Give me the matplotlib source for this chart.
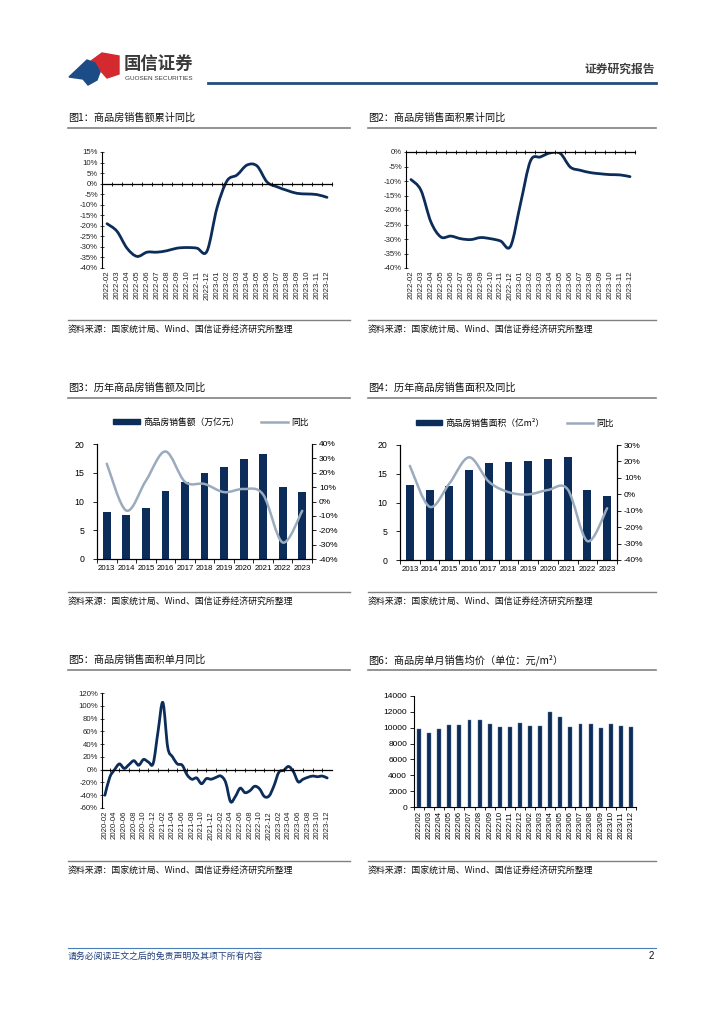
import numpy as np
import matplotlib
matplotlib.use('Agg')
import matplotlib.pyplot as plt
from matplotlib.path import Path
from matplotlib.patches import PathPatch, Polygon, Patch
from matplotlib.lines import Line2D

plt.rcParams['font.family'] = ['Liberation Sans', 'Noto Sans CJK SC']
plt.rcParams['axes.unicode_minus'] = False

W, H = 724, 1024
NAVY = '#0C2D5A'
LIGHT = '#9AABBE'
CJK = ['Noto Sans CJK SC', 'DejaVu Sans']

# ---- data ----
months_a = ['2022-02', '2022-03', '2022-04', '2022-05', '2022-06', '2022-07', '2022-08',
            '2022-09', '2022-10', '2022-11', '2022-12', '2023-01', '2023-02', '2023-03',
            '2023-04', '2023-05', '2023-06', '2023-07', '2023-08', '2023-09', '2023-10',
            '2023-11', '2023-12']
cum_sales_yoy = [-19.0, -22.6, -30.6, -34.5, -32.5, -32.5, -31.8, -30.6, -30.3, -30.6,
                 -32.0, -11.5, 1.3, 4.1, 8.8, 8.4, 0.8, -1.5, -3.2, -4.6, -4.9, -5.2, -6.5]
cum_area_yoy = [-9.5, -13.2, -24.1, -29.3, -29.0, -29.9, -30.2, -29.5, -29.9, -30.7,
                -32.5, -17.8, -3.1, -1.7, -0.3, -0.5, -5.2, -6.3, -7.1, -7.5, -7.8, -7.9, -8.5]

years = ['2013', '2014', '2015', '2016', '2017', '2018', '2019', '2020', '2021', '2022', '2023']
sales_amount = [8.1, 7.6, 8.8, 11.8, 13.4, 15.0, 16.0, 17.4, 18.2, 12.5, 11.7]
sales_amount_yoy = [26.3, -6.3, 14.4, 34.8, 13.7, 12.2, 6.5, 8.7, 4.8, -28.5, -6.5]
sales_area = [13.1, 12.1, 12.8, 15.7, 16.9, 17.1, 17.2, 17.6, 17.9, 12.2, 11.2]
sales_area_yoy = [17.3, -7.6, 6.5, 22.5, 7.7, 1.3, -0.1, 2.6, 3.0, -28.5, -8.5]

monthly_ticks = ['2020-02', '2020-04', '2020-06', '2020-08', '2020-10', '2020-12',
                 '2021-02', '2021-04', '2021-06', '2021-08', '2021-10', '2021-12',
                 '2022-02', '2022-04', '2022-06', '2022-08', '2022-10', '2022-12',
                 '2023-02', '2023-04', '2023-06', '2023-08', '2023-10', '2023-12']
area_month_yoy = [-40, -12, 0, 9, 2, 8, 14, 7, 16, 12, 10, 60, 105, 35, 20, 9, 7, -8,
                  -15, -13, -22, -14, -15, -12, -10, -20, -50, -42, -29, -36, -33, -26,
                  -30, -42, -41, -25, -4, -1, 5, -3, -19, -15, -12, -10, -11, -10, -13]

months_c = ['2022/02', '2022/03', '2022/04', '2022/05', '2022/06', '2022/07', '2022/08',
            '2022/09', '2022/10', '2022/11', '2022/12', '2023/02', '2023/03', '2023/04',
            '2023/05', '2023/06', '2023/07', '2023/08', '2023/09', '2023/10', '2023/11',
            '2023/12']
avg_price = [9810, 9350, 9810, 10310, 10310, 10940, 10940, 10440, 10060, 10060, 10600,
             10230, 10230, 11990, 11360, 10100, 10440, 10440, 10020, 10440, 10270, 10060]

fig = plt.figure(figsize=(W / 100, H / 100), dpi=100)


def px_axes(x0, y0, x1, y1):
    return fig.add_axes([x0 / W, 1 - y1 / H, (x1 - x0) / W, (y1 - y0) / H])


def hline(x0, x1, y, color, lw):
    fig.add_artist(Line2D([x0 / W, x1 / W], [1 - y / H, 1 - y / H], color=color, lw=lw))


def smooth_line(ax, x, y, **kw):
    # excel-like smoothed line drawn with bezier segments through the data points
    x = np.asarray(x, float)
    y = np.asarray(y, float)
    n = len(x)
    verts = [(x[0], y[0])]
    codes = [Path.MOVETO]
    for i in range(n - 1):
        xa, ya = (x[i - 1], y[i - 1]) if i > 0 else (x[i], y[i])
        xd, yd = (x[i + 2], y[i + 2]) if i + 2 < n else (x[i + 1], y[i + 1])
        c1 = (x[i] + (x[i + 1] - xa) / 6, y[i] + (y[i + 1] - ya) / 6)
        c2 = (x[i + 1] - (xd - x[i]) / 6, y[i + 1] - (yd - y[i]) / 6)
        verts += [c1, c2, (x[i + 1], y[i + 1])]
        codes += [Path.CURVE4] * 3
    ax.add_patch(PathPatch(Path(verts, codes), fill=False, capstyle='round', **kw))


def pct_axis(ax, lo, hi, step):
    ticks = list(range(lo, hi + 1, step))
    ax.set_ylim(lo, hi)
    ax.set_yticks(ticks, [f'{t}%' for t in ticks])


def line_panel(ax, labels, label_step, tick_pos, values, lo, hi, step, xlim):
    n = len(values)
    for s in ['right', 'top']:
        ax.spines[s].set_visible(False)
    ax.spines['bottom'].set_position(('data', 0))
    ax.spines['left'].set_linewidth(0.8)
    ax.spines['bottom'].set_linewidth(0.9)
    pct_axis(ax, lo, hi, step)
    ax.set_xlim(*xlim)
    ax.set_xticks(tick_pos)
    ax.tick_params(axis='x', direction='inout', length=3, width=0.6, labelbottom=False)
    ax.tick_params(axis='y', direction='inout', length=3, width=0.6, labelsize=5.6,
                   pad=1.5, colors='#222222')
    sec = ax.secondary_xaxis('bottom')
    sec.spines['bottom'].set_visible(False)
    sec.set_xticks(range(0, n, label_step), labels, rotation=90)
    sec.tick_params(length=0, labelsize=5.6, pad=2, colors='#222222')
    smooth_line(ax, range(n), values, color=NAVY, lw=2.0)


def bar_line_panel(ax, bars, yoy, plo, phi, pstep, label):
    x = np.arange(len(years))
    ax.bar(x, bars, width=0.4, color=NAVY, zorder=2)
    ax.set_xlim(-0.5, len(years) - 0.5)
    ax.set_ylim(0, 20)
    ax.set_yticks([0, 5, 10, 15, 20])
    ax.set_xticks(x, years)
    ax.set_xticks(np.arange(-0.5, len(years)), minor=True)
    ax.tick_params(axis='x', which='major', length=0, labelsize=5.7, pad=4)
    ax.tick_params(axis='x', which='minor', length=3, width=0.6)
    ax.tick_params(axis='y', length=3, width=0.6, labelsize=6.3, pad=6)
    ax.spines['top'].set_visible(False)
    ax2 = ax.twinx()
    smooth_line(ax2, x, yoy, color=LIGHT, lw=1.8)
    pct_axis(ax2, plo, phi, pstep)
    ax2.tick_params(axis='y', length=3, width=0.6, labelsize=6.0, pad=2)
    ax2.spines['top'].set_visible(False)
    for a in (ax, ax2):
        for s in a.spines.values():
            s.set_linewidth(0.8)
    handles = [Patch(color=NAVY), Line2D([], [], color=LIGHT, lw=1.8)]
    ax.legend(handles, [label, '同比'], loc='center', bbox_to_anchor=(0.53, 1.19), ncol=2,
              frameon=False, handlelength=3.0, handleheight=0.55,
              columnspacing=2.5, handletextpad=0.4, prop={'family': CJK, 'size': 6.3})


# ---- header ----
fig.add_artist(Polygon([(91 / W, 1 - 61 / H), (102 / W, 1 - 53 / H), (119 / W, 1 - 56 / H),
                        (119 / W, 1 - 74 / H), (107 / W, 1 - 78 / H), (99 / W, 1 - 69 / H)],
                       closed=True, color='#D42A2F', transform=fig.transFigure))
fig.add_artist(Polygon([(69 / W, 1 - 77 / H), (87 / W, 1 - 60 / H), (95 / W, 1 - 63 / H),
                        (100 / W, 1 - 72 / H), (97 / W, 1 - 80 / H), (88 / W, 1 - 85 / H),
                        (83 / W, 1 - 79 / H)],
                       closed=True, color='#1B4C86', transform=fig.transFigure))
fig.text(124 / W, 1 - 64 / H, '国信证券', fontsize=12.5, fontweight='bold', color='#3A3A3A',
         va='center', family=CJK)
fig.text(125 / W, 1 - 78 / H, 'GUOSEN SECURITIES', fontsize=4.6, color='#3A3A3A', va='center')
fig.text(655 / W, 1 - 69 / H, '证券研究报告', fontsize=8.5, fontweight='bold', color='#404040',
         va='center', ha='right', family=CJK)
hline(208, 656, 83, '#1F4E79', 2.0)

# ---- section titles and sources ----
titles = [('图1：商品房销售额累计同比', 68, 118), ('图2：商品房销售面积累计同比', 368, 118),
          ('图3：历年商品房销售额及同比', 68, 388), ('图4：历年商品房销售面积及同比', 368, 388),
          ('图5：商品房销售面积单月同比', 68, 660), ('图6：商品房单月销售均价（单位：元/m²）', 368, 660)]
for text, x, y in titles:
    fig.text(x / W, 1 - y / H, text, fontsize=7.3, va='center', family=CJK, color='#111111')
    hline(x, x + 282 if x == 68 else x + 288, y + 10, '#808080', 1.2)

source = '资料来源：国家统计局、Wind、国信证券经济研究所整理'
for y in (330, 602, 871):
    for x in (68, 368):
        hline(x, x + 282 if x == 68 else x + 288, y - 10, '#808080', 1.0)
        fig.text(x / W, 1 - y / H, source, fontsize=6.4, va='center', family=CJK, color='#111111')

# ---- figure 1 ----
ax1 = px_axes(102, 152, 332, 268)
line_panel(ax1, months_a, 1, np.arange(-0.5, 23), cum_sales_yoy, -40, 15, 5, (-0.35, 22.35))

# ---- figure 2 ----
ax2 = px_axes(406, 152, 635, 268)
line_panel(ax2, months_a, 1, np.arange(-0.5, 23), cum_area_yoy, -40, 0, 5, (-0.4, 22.5))

# ---- figure 3 ----
ax3 = px_axes(97, 444, 312, 559)
bar_line_panel(ax3, sales_amount, sales_amount_yoy, -40, 40, 10, '商品房销售额（万亿元）')

# ---- figure 4 ----
ax4 = px_axes(400, 445, 617, 560)
bar_line_panel(ax4, sales_area, sales_area_yoy, -40, 30, 10, '商品房销售面积（亿m²）')

# ---- figure 5 ----
ax5 = px_axes(102, 693, 332, 808)
line_panel(ax5, monthly_ticks, 2, np.arange(1, 47, 2), area_month_yoy, -60, 120, 20,
           (-0.6, 47.0))

# ---- figure 6 ----
ax6 = px_axes(414, 696, 636, 807)
xc = np.arange(len(months_c))
ax6.bar(xc, avg_price, width=0.38, color=NAVY, edgecolor='#5A7696', linewidth=0.3)
ax6.set_xlim(-0.5, len(months_c) - 0.5)
ax6.set_ylim(0, 14000)
ax6.set_yticks(range(0, 14001, 2000))
ax6.set_xticks(xc, months_c, rotation=90)
ax6.set_xticks(np.arange(-0.5, len(months_c)), minor=True)
ax6.tick_params(axis='x', which='major', length=0, labelsize=5.6, pad=3)
ax6.tick_params(axis='x', which='minor', length=2.5, width=0.6)
ax6.tick_params(axis='y', length=3, width=0.6, labelsize=6.0, pad=2)
for s in ['right', 'top']:
    ax6.spines[s].set_visible(False)
for s in ['left', 'bottom']:
    ax6.spines[s].set_linewidth(0.8)

# ---- footer ----
hline(68, 656, 948, '#4A7EBB', 0.8)
fig.text(68 / W, 1 - 956 / H, '请务必阅读正文之后的免责声明及其项下所有内容', fontsize=6.4,
         style='italic', color='#1F3D7A', va='center', family=CJK)
fig.text(654 / W, 1 - 956 / H, '2', fontsize=7, va='center', ha='right', color='#111111')

fig.savefig('out.png', dpi=100)
